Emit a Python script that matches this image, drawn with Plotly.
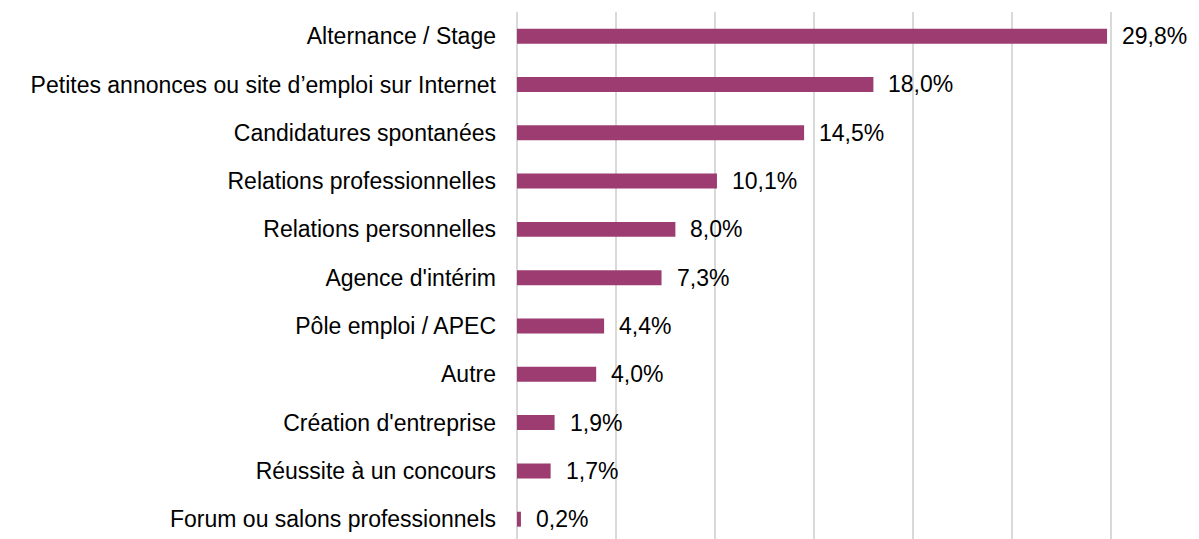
import plotly.graph_objects as go

categories = [
    "Alternance / Stage",
    "Petites annonces ou site d\u2019emploi sur Internet",
    "Candidatures spontanées",
    "Relations professionnelles",
    "Relations personnelles",
    "Agence d'intérim",
    "Pôle emploi / APEC",
    "Autre",
    "Création d'entreprise",
    "Réussite à un concours",
    "Forum ou salons professionnels",
]
values = [29.8, 18.0, 14.5, 10.1, 8.0, 7.3, 4.4, 4.0, 1.9, 1.7, 0.2]
labels = [f"{v:.1f}".replace(".", ",") + "%" for v in values]

bar_color = "#9C3C70"
grid_color = "#d9d9d9"
font_family = "Liberation Sans, Arial, sans-serif"
font_size = 23

fig = go.Figure()

fig.add_trace(go.Bar(
    x=values,
    y=categories,
    orientation="h",
    width=0.31,
    marker=dict(color=bar_color, line=dict(width=0)),
    hoverinfo="skip",
))

# value labels to the right of each bar
for cat, v, lab in zip(categories, values, labels):
    fig.add_annotation(
        x=v, y=cat, text=lab, showarrow=False,
        xanchor="left", xshift=13,
        font=dict(size=font_size, color="#000000", family=font_family),
    )

fig.update_layout(
    width=1183,
    height=531,
    margin=dict(l=507, r=78, t=4, b=0),
    plot_bgcolor="white",
    paper_bgcolor="white",
    showlegend=False,
    font=dict(family=font_family, size=font_size, color="#000000"),
    xaxis=dict(
        range=[-0.1, 30.1],
        tickmode="linear",
        tick0=0,
        dtick=5,
        showgrid=True,
        gridcolor=grid_color,
        gridwidth=1.5,
        zeroline=True,
        zerolinecolor=grid_color,
        zerolinewidth=1.5,
        showticklabels=False,
        showline=False,
        fixedrange=True,
    ),
    yaxis=dict(
        type="category",
        range=[10.41, -0.5],
        showgrid=False,
        showline=False,
        ticks="",
        ticklabelstandoff=18,
        tickfont=dict(size=font_size, color="#000000"),
        fixedrange=True,
    ),
)

fig.write_html("out.html")
